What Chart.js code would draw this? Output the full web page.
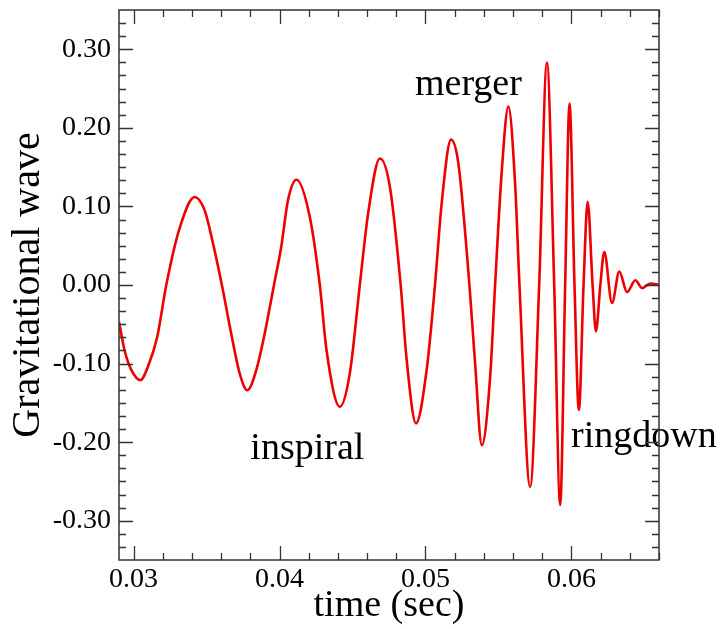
<!DOCTYPE html>
<html>
<head>
<meta charset="utf-8">
<script src="https://cdn.jsdelivr.net/npm/chart.js@4"></script>
<style>
  body { margin: 0; background: #fff; }
</style>
</head>
<body>
<canvas id="chart1" width="722" height="629"></canvas>
<script>
// waveform: time (sec) and strain
const timeValues = [
	0.02900, 0.02938, 0.02984, 0.03047, 0.03098, 0.03162, 0.03224, 0.03315, 0.03418,
	0.03487, 0.03544, 0.03605, 0.03669, 0.03726, 0.03779, 0.03841, 0.03898, 0.03962, 0.04012,
	0.04058, 0.04116, 0.04207, 0.04276, 0.04322, 0.04413, 0.04482, 0.04550, 0.04607,
	0.04688, 0.04756, 0.04830, 0.04871, 0.04935, 0.05008, 0.05065, 0.05111, 0.05175,
	0.05225, 0.05301, 0.05340, 0.05386, 0.05443, 0.05477, 0.05523, 0.05568, 0.05614,
	0.05644, 0.05717, 0.05779, 0.05832, 0.05882, 0.05923, 0.05957, 0.05987, 0.06021, 0.06051,
	0.06083, 0.06111, 0.06145, 0.06168, 0.06198, 0.06225, 0.06278, 0.06328, 0.06381, 0.06438,
	0.06484, 0.06540, 0.06600,
];
const waveValues = [
	-0.047, -0.083, -0.108, -0.121, -0.104, -0.066, 0.000, 0.072, 0.112,
	0.095, 0.053, 0.000, -0.062, -0.112, -0.134, -0.108, -0.062, 0.000, 0.049,
	0.108, 0.134, 0.087, 0.000, -0.083, -0.155, -0.112, 0.000, 0.091,
	0.161, 0.125, 0.000, -0.095, -0.176, -0.108, 0.000, 0.104, 0.185,
	0.155, 0.000, -0.100, -0.204, -0.117, 0.000, 0.146, 0.227, 0.129,
	0.000, -0.257, 0.000, 0.283, 0.000, -0.280, 0.000, 0.231, 0.000, -0.159,
	0.000, 0.106, 0.000, -0.059, 0.000, 0.042, -0.023, 0.017, -0.009, 0.006,
	-0.004, 0.002, 0.000,
];
const xTickValues = [0.03, 0.04, 0.05, 0.06];
const yTickValues = [-0.3, -0.2, -0.1, 0, 0.1, 0.2, 0.3];
const phaseLabels = ["inspiral", "merger", "ringdown"];

const serif = "'Liberation Serif', 'Times New Roman', serif";

// box frame with inward ticks on all sides, plus phase labels
const frameTicks = {
	id: "frameTicks",
	afterDatasetsDraw(chart) {
		const { ctx, chartArea: a, scales: { x, y } } = chart;
		ctx.save();

		ctx.fillStyle = "#000";
		ctx.font = "38px " + serif;
		ctx.textBaseline = "alphabetic";
		ctx.textAlign = "left";
		ctx.fillText(phaseLabels[0], x.getPixelForValue(0.0380), y.getPixelForValue(-0.221));
		ctx.fillText(phaseLabels[1], x.getPixelForValue(0.04928), y.getPixelForValue(0.242));
		ctx.fillText(phaseLabels[2], x.getPixelForValue(0.05997), y.getPixelForValue(-0.206));

		ctx.strokeStyle = "#333";
		ctx.lineWidth = 1.5;
		ctx.strokeRect(a.left, a.top, a.right - a.left, a.bottom - a.top);

		ctx.beginPath();
		for (let k = 0; k <= 18; k++) {
			const v = 0.03 + k * 0.002;
			if (v > x.max) break;
			const px = Math.round(x.getPixelForValue(v)) + 0.5;
			const len = k % 5 === 0 ? 14 : 7;
			ctx.moveTo(px, a.bottom); ctx.lineTo(px, a.bottom - len);
			ctx.moveTo(px, a.top); ctx.lineTo(px, a.top + len);
		}
		for (let k = 1; k < 42; k++) {
			const v = -0.35 + k * 0.1 / 6;
			const py = Math.round(y.getPixelForValue(v)) + 0.5;
			const len = (k - 3) % 6 === 0 ? 14 : 7;
			ctx.moveTo(a.left, py); ctx.lineTo(a.left + len, py);
			ctx.moveTo(a.right, py); ctx.lineTo(a.right - len, py);
		}
		ctx.lineWidth = 1.3;
		ctx.stroke();
		ctx.restore();
	},
};

new Chart(document.getElementById("chart1"), {
	type: "line",
	data: {
		datasets: [
			{
				label: "Gravitational wave",
				data: timeValues.map((t, i) => ({ x: t, y: waveValues[i] })),
				borderColor: "#ee0000",
				borderWidth: 2.6,
				pointRadius: 0,
				fill: false,
				cubicInterpolationMode: "monotone",
			},
		],
	},
	options: {
		responsive: false,
		animation: false,
		devicePixelRatio: 1,
		layout: { padding: { top: 10, right: 63, left: 0, bottom: 0 } },
		plugins: {
			legend: { display: false },
			tooltip: { enabled: false },
		},
		scales: {
			x: {
				type: "linear",
				min: 0.029,
				max: 0.066,
				afterBuildTicks: (s) => { s.ticks = xTickValues.map((v) => ({ value: v })); },
				afterFit: (s) => {
					s.height = 69;
					s.paddingLeft = 0;
					s.paddingRight = 0;
				},
				grid: { display: false, drawTicks: false },
				border: { display: false },
				ticks: {
					color: "#000",
					padding: 3,
					maxRotation: 0,
					autoSkip: false,
					font: { family: serif, size: 28 },
					callback: (v) => v.toFixed(2),
				},
				title: {
					display: true,
					text: "time (sec)",
					color: "#000",
					font: { family: serif, size: 38, lineHeight: 1.2 },
					padding: { top: 0, bottom: 0 },
				},
			},
			y: {
				min: -0.35,
				max: 0.35,
				afterBuildTicks: (s) => { s.ticks = yTickValues.map((v) => ({ value: v })); },
				afterFit: (s) => {
					s.width = 119;
					s.paddingTop = 0;
					s.paddingBottom = 0;
				},
				grid: { display: false, drawTicks: false },
				border: { display: false },
				ticks: {
					color: "#000",
					padding: 8,
					autoSkip: false,
					font: { family: serif, size: 28 },
					callback: (v) => v.toFixed(2),
				},
				title: {
					display: true,
					text: "Gravitational wave",
					color: "#000",
					font: { family: serif, size: 40, lineHeight: 1.2 },
					padding: { top: 4, bottom: 0 },
				},
			},
		},
	},
	plugins: [frameTicks],
});
</script>
</body>
</html>
